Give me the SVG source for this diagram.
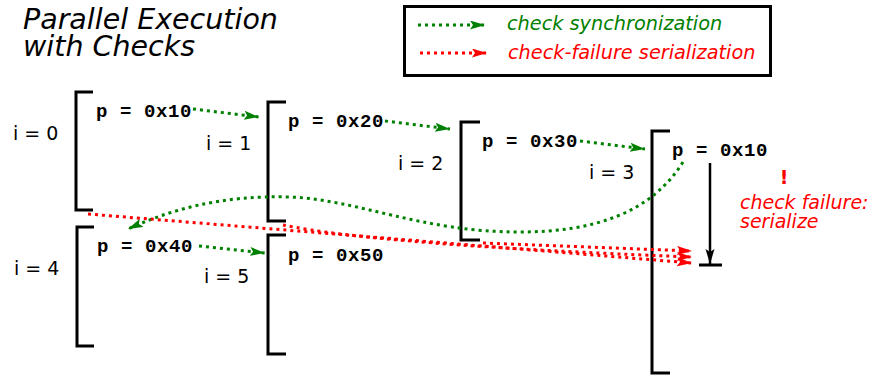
<svg xmlns="http://www.w3.org/2000/svg" width="881" height="379" viewBox="0 0 881 379">
<style>
  .lbl{font-family:"DejaVu Sans","Liberation Sans",sans-serif;font-size:19px;fill:#000}
  .code{font-family:"Liberation Mono","Courier New",monospace;font-weight:bold;font-size:19px;letter-spacing:0.6px;fill:#000}
  .ital{font-family:"DejaVu Sans","Liberation Sans",sans-serif;font-style:italic}
  .brk{fill:none;stroke:#000;stroke-width:3}
  .sync{fill:none;stroke:#008000;stroke-width:3;stroke-dasharray:3 4;marker-end:url(#ag)}
  .fail{fill:none;stroke:#ff0000;stroke-width:3;stroke-dasharray:3 4;marker-end:url(#ar)}
</style>
<defs>
  <marker id="ag" markerUnits="userSpaceOnUse" markerWidth="16" markerHeight="10" refX="15" refY="4.5" orient="auto">
    <path d="M0,0 L15,4.5 L0,9 L3,4.5 z" fill="#008000"/>
  </marker>
  <marker id="ar" markerUnits="userSpaceOnUse" markerWidth="16" markerHeight="10" refX="15" refY="4.5" orient="auto">
    <path d="M0,0 L15,4.5 L0,9 L3,4.5 z" fill="#ff0000"/>
  </marker>
  <marker id="ak" markerUnits="userSpaceOnUse" markerWidth="16" markerHeight="10" refX="15" refY="4.5" orient="auto">
    <path d="M0,0 L15,4.5 L0,9 L3,4.5 z" fill="#000"/>
  </marker>
</defs>
<rect width="881" height="379" fill="#fff"/>

<g id="title" class="ital" font-size="28.5">
  <text x="23" y="29">Parallel Execution</text>
  <text x="23" y="56">with Checks</text>
</g>

<g id="legend">
  <rect x="404.5" y="6.5" width="366" height="69" fill="none" stroke="#000" stroke-width="3"/>
  <path class="sync" d="M418,25 H485"/>
  <text class="ital" x="507" y="30" font-size="19.3" fill="#008000">check synchronization</text>
  <path class="fail" d="M420,53 H487"/>
  <text class="ital" x="508" y="59" font-size="19.3" fill="#ff0000">check-failure serialization</text>
</g>

<g id="iter0">
  <path class="brk" d="M93,92 H76 V210 H93"/>
  <text class="lbl" x="13" y="140">i = 0</text>
  <text class="code" x="96" y="117">p = 0x10</text>
</g>
<g id="iter1">
  <path class="brk" d="M286,102 H268 V221 H286"/>
  <text class="lbl" x="206" y="150">i = 1</text>
  <text class="code" x="288" y="127">p = 0x20</text>
</g>
<g id="iter2">
  <path class="brk" d="M480,122 H461 V240 H480"/>
  <text class="lbl" x="398" y="170">i = 2</text>
  <text class="code" x="482" y="147">p = 0x30</text>
</g>
<g id="iter3">
  <path class="brk" d="M670,131 H652 V373 H670"/>
  <text class="lbl" x="589" y="179">i = 3</text>
  <text class="code" x="672" y="156">p = 0x10</text>
</g>
<g id="iter4">
  <path class="brk" d="M94,227 H77 V346 H94"/>
  <text class="lbl" x="14" y="275">i = 4</text>
  <text class="code" x="97" y="252">p = 0x40</text>
</g>
<g id="iter5">
  <path class="brk" d="M286,235 H268 V354 H286"/>
  <text class="lbl" x="204" y="283">i = 5</text>
  <text class="code" x="288" y="261">p = 0x50</text>
</g>

<g id="connectors">
  <path class="sync" d="M193,109 L259,117"/>
  <path class="sync" d="M385,121 L450,129"/>
  <path class="sync" d="M580,141 L645,149"/>
  <path class="sync" d="M199,246 L265,253"/>
  <path class="sync" d="M683,162 C650,215 590,232 520,232 C420,232 360,200 290,197 C220,195 170,210 128,229"/>
  <path class="fail" d="M88,214 L692,263"/>
  <path class="fail" d="M283,225 Q380,245 692,257"/>
  <path class="fail" d="M483,243 L692,251"/>
  <path d="M710,163 V264" fill="none" stroke="#000" stroke-width="2.5" marker-end="url(#ak)"/>
  <path d="M699,265 H722" fill="none" stroke="#000" stroke-width="3"/>
</g>

<g id="annotation" fill="#ff0000">
  <text x="784" y="184" font-family="DejaVu Sans, sans-serif" font-weight="bold" font-size="19" text-anchor="middle">!</text>
  <text class="ital" x="740" y="209" font-size="19">check failure:</text>
  <text class="ital" x="740" y="228" font-size="19">serialize</text>
</g>
</svg>
